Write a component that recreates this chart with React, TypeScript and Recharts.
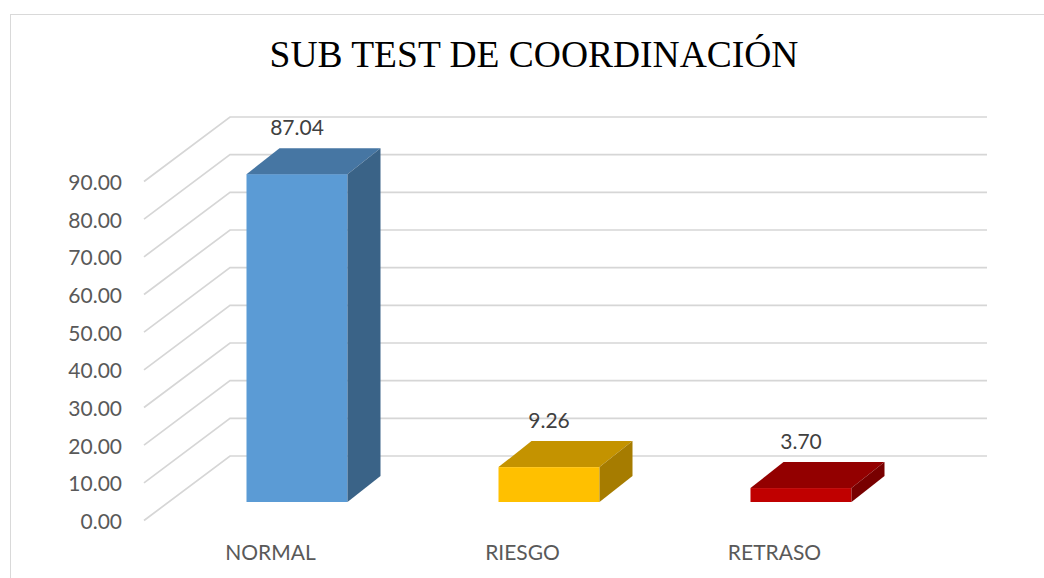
import React from "react";
import { BarChart, Bar, XAxis, YAxis, CartesianGrid, LabelList } from "recharts";

const categories = ["NORMAL", "RIESGO", "RETRASO"];
const values = [87.04, 9.26, 3.7];
const yTicks = [0, 10, 20, 30, 40, 50, 60, 70, 80, 90];

const frontColors = ["#5B9BD5", "#FFC000", "#C00000"];
const topColors = ["#4676A3", "#C49300", "#930000"];
const sideColors = ["#3A6387", "#A67C00", "#780000"];

const data = categories.map((name, i) => ({ name, value: values[i] }));

// 3d look
const DX = 33;
const DY = 26;
const FONT = "Lato, 'Open Sans', sans-serif";

const Bar3D = (props: any) => {
  const { x, y, width, height, index } = props;
  const top = `M${x},${y} L${x + DX},${y - DY} L${x + width + DX},${y - DY} L${x + width},${y} Z`;
  const side = `M${x + width},${y} L${x + width + DX},${y - DY} L${x + width + DX},${y + height - DY} L${x + width},${y + height} Z`;
  return (
    <g>
      <rect x={x} y={y} width={width} height={height} fill={frontColors[index]} />
      <path d={top} fill={topColors[index]} />
      <path d={side} fill={sideColors[index]} />
    </g>
  );
};

const gridLine = (props: any) => {
  const { x1, x2, y1 } = props;
  const d = `M${x1 - 26.5},${y1 + 18.5} L${x1 + 59.5},${y1 - 46} L${x2 + 60.5},${y1 - 46}`;
  return <path key={props.key ?? `g-${y1}`} d={d} fill="none" stroke="#D6D6D6" strokeWidth={1.7} />;
};

const YTick = (props: any) => {
  const { x, y, payload } = props;
  return (
    <text x={x - 48.5} y={y + 18.5} textAnchor="end" dominantBaseline="central" fill="#595959" fontSize={21} fontFamily={FONT}>
      {Number(payload.value).toFixed(2)}
    </text>
  );
};

const XTick = (props: any) => {
  const { x, y, payload } = props;
  return (
    <text x={x - 26} y={y + 49.5} textAnchor="middle" dominantBaseline="central" fill="#595959" fontSize={21} fontFamily={FONT}>
      {payload.value}
    </text>
  );
};

const ValueLabel = (props: any) => {
  const { x, y, width, value } = props;
  return (
    <text x={x + width / 2} y={y - 48} textAnchor="middle" dominantBaseline="central" fill="#404040" fontSize={21} fontFamily={FONT}>
      {Number(value).toFixed(2)}
    </text>
  );
};

export default function App() {
  return (
    <div style={{ position: "relative", width: 1044, height: 578, overflow: "hidden", background: "#fff" }}>
      <style>{"body{margin:0}"}</style>
      <div
        style={{
          position: "absolute",
          left: 10,
          top: 14,
          width: 1100,
          height: 700,
          borderLeft: "1.5px solid #D9D9D9",
          borderTop: "1.5px solid #D9D9D9",
        }}
      />
      <svg width={1044} height={100} style={{ position: "absolute", left: 0, top: 0 }}>
        <text x={534} y={67} textAnchor="middle" fontSize={37.5} fontFamily="'Liberation Serif', 'Times New Roman', serif" fill="#000">
          SUB TEST DE COORDINACIÓN
        </text>
      </svg>
      <div style={{ position: "absolute", left: 0, top: 0 }}>
        <BarChart
          width={1044}
          height={578}
          data={data}
          margin={{ top: 163, right: 117.5, bottom: 46, left: 110.5 }}
        >
          <CartesianGrid vertical={false} horizontal={gridLine} />
          <XAxis dataKey="name" axisLine={false} tickLine={false} tickSize={0} tickMargin={0} height={30} tick={<XTick />} />
          <YAxis
            domain={[0, 90]}
            ticks={yTicks}
            width={60}
            axisLine={false}
            tickLine={false}
            tickSize={0}
            tickMargin={0}
            tick={<YTick />}
          />
          <Bar dataKey="value" barSize={101} shape={<Bar3D />} isAnimationActive={false}>
            <LabelList dataKey="value" content={<ValueLabel />} />
          </Bar>
        </BarChart>
      </div>
    </div>
  );
}
